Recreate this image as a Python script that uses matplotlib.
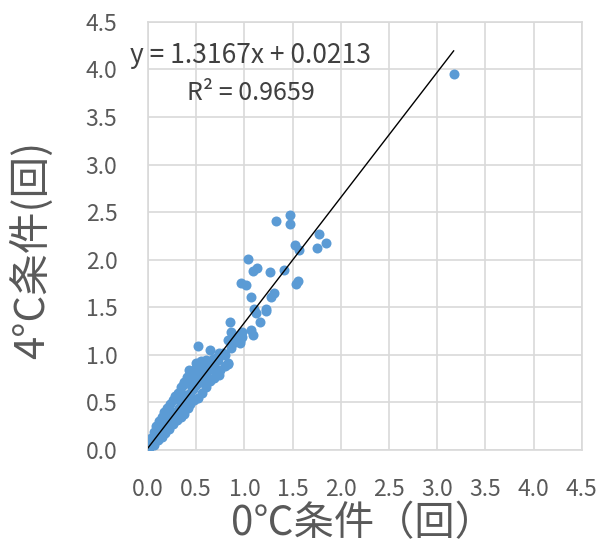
import numpy as np
import matplotlib
matplotlib.use('Agg')
import matplotlib.pyplot as plt

plt.rcParams['font.family'] = ['Noto Sans CJK JP', 'DejaVu Sans']

# 0℃条件 (x) / 4℃条件 (y) : dense cluster near the origin
x_dense = [0.00, 0.01, 0.02, 0.05, 0.08, 0.11, 0.14, 0.17, 0.20, 0.23, 0.26, 0.29, 0.32, 0.35, 0.38,
           0.41, 0.44, 0.47, 0.50, 0.53, 0.56, 0.59, 0.62, 0.65, 0.68,
           0.03, 0.06, 0.08, 0.11, 0.14, 0.17, 0.20, 0.23, 0.26, 0.28, 0.31, 0.34, 0.37, 0.40, 0.44,
           0.47, 0.50, 0.55, 0.60,
           0.06, 0.10, 0.14, 0.18, 0.22, 0.26, 0.30, 0.34, 0.37, 0.41, 0.44, 0.48, 0.52, 0.56, 0.60,
           0.64, 0.68, 0.71, 0.75, 0.80, 0.83,
           0.15, 0.19, 0.25, 0.33, 0.38, 0.45, 0.53, 0.58, 0.62, 0.70, 0.73, 0.78]
y_dense = [0.00, 0.02, 0.05, 0.09, 0.12, 0.16, 0.20, 0.24, 0.28, 0.32, 0.36, 0.40, 0.44, 0.48, 0.52,
           0.56, 0.60, 0.64, 0.68, 0.72, 0.76, 0.80, 0.84, 0.88, 0.92,
           0.13, 0.19, 0.25, 0.30, 0.35, 0.40, 0.44, 0.48, 0.52, 0.57, 0.60, 0.66, 0.71, 0.74, 0.76,
           0.82, 0.86, 0.88, 0.95,
           0.05, 0.10, 0.14, 0.18, 0.22, 0.27, 0.31, 0.35, 0.38, 0.44, 0.48, 0.52, 0.55, 0.60, 0.66,
           0.72, 0.76, 0.80, 0.84, 0.88, 0.91,
           0.28, 0.33, 0.40, 0.52, 0.58, 0.68, 0.78, 0.70, 0.76, 0.86, 0.95, 1.02]

x_mid = [0.52, 0.64, 0.55, 0.60, 0.50, 0.74, 0.71, 0.83, 0.86, 0.95, 0.98, 0.90, 0.80, 0.88, 0.67,
         0.74, 0.64, 0.53, 0.43, 0.40, 0.45, 0.36, 0.62, 0.53]
y_mid = [1.09, 1.05, 0.93, 0.91, 0.91, 1.02, 0.97, 0.90, 1.07, 1.12, 1.19, 1.20, 1.00, 1.12, 0.96,
         0.79, 0.86, 0.84, 0.84, 0.77, 0.79, 0.68, 0.72, 0.77]

x_high = [0.85, 1.12, 1.22, 1.16, 0.86, 0.97, 1.07, 0.83, 0.95, 1.09, 1.10, 1.22, 1.07, 1.31, 1.28,
          0.96, 1.02, 1.56, 1.54, 1.04, 1.13, 1.09, 1.27, 1.41, 1.52, 1.57, 1.77, 1.85, 1.75, 1.33,
          1.47, 1.47, 3.17]
y_high = [1.35, 1.44, 1.46, 1.34, 1.24, 1.24, 1.26, 1.16, 1.14, 1.21, 1.48, 1.48, 1.61, 1.65, 1.61,
          1.76, 1.73, 1.78, 1.74, 2.01, 1.91, 1.88, 1.87, 1.89, 2.15, 2.10, 2.27, 2.18, 2.12, 2.41,
          2.47, 2.38, 3.95]

slope = 1.3167
intercept = 0.0213
ticks = [0.0, 0.5, 1.0, 1.5, 2.0, 2.5, 3.0, 3.5, 4.0, 4.5]

xs = x_dense + x_mid + x_high
ys = y_dense + y_mid + y_high

fig = plt.figure(figsize=(5.98, 5.48), dpi=100)
ax = fig.add_axes([0.2475, 0.179, 0.7255, 0.781])

ax.scatter(xs, ys, s=52, color='#5B9BD5', zorder=3, linewidths=0)
xl = np.array([0.0, max(xs)])
ax.plot(xl, slope * xl + intercept, color='black', lw=1.0, zorder=4)

ax.set_xlim(0, 4.5)
ax.set_ylim(0, 4.5)
ax.set_xticks(ticks)
ax.set_yticks(ticks)
ax.set_xticklabels(['%.1f' % t for t in ticks])
ax.set_yticklabels(['%.1f' % t for t in ticks])
ax.grid(True, color='#d9d9d9', lw=1.2)
ax.set_axisbelow(True)
for s in ax.spines.values():
    s.set_color('#d9d9d9')
    s.set_linewidth(1.2)
ax.tick_params(length=0, labelsize=16.5, colors='#595959')
ax.tick_params(axis='x', pad=20)
ax.tick_params(axis='y', pad=22)

xlab = ax.set_xlabel('0℃条件（回）', fontsize=29, color='#595959')
xlab.set_va('center')
ax.xaxis.set_label_coords(0.495, -0.172)
ylab = ax.set_ylabel('4°C条件(回)', fontsize=30, color='#595959')
ylab.set_va('center')
ax.yaxis.set_label_coords(-0.268, 0.467)

ax.text(-0.19, 4.15, 'y = 1.3167x + 0.0213', fontsize=19, color='#404040', va='center')
ax.text(0.4, 3.75, 'R² = 0.9659', fontsize=18, color='#404040', va='center')

fig.savefig('out.png', dpi=100)
